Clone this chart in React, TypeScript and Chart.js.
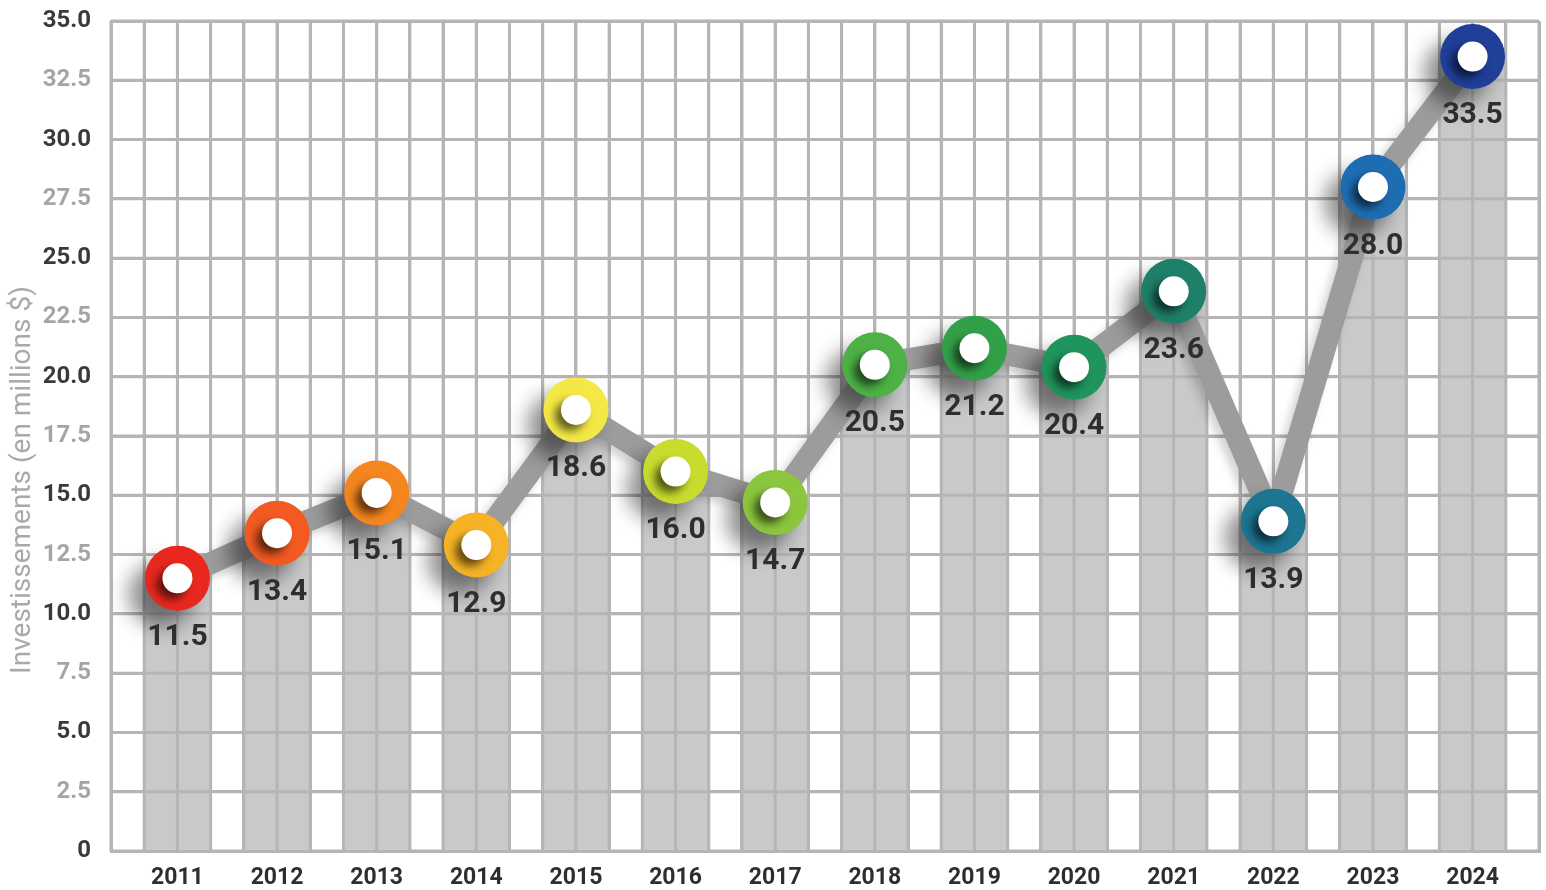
import React, { useEffect, useRef } from "react";
import { Chart, registerables } from "chart.js";

Chart.register(...registerables);

const years = ["2011", "2012", "2013", "2014", "2015", "2016", "2017", "2018", "2019", "2020", "2021", "2022", "2023", "2024"];
const investments = [11.5, 13.4, 15.1, 12.9, 18.6, 16.0, 14.7, 20.5, 21.2, 20.4, 23.6, 13.9, 28.0, 33.5];
const pointColors = [
  "#e8281e", "#f25a22", "#f5861f", "#f6b326", "#f4e846", "#c8dc2e", "#8cc63e",
  "#4db146", "#32a048", "#1f945c", "#1f8069", "#1d7591", "#1e6db2", "#1f3f98",
];
const yTitle = "Investissements (en millions $)";
const FONT = "Roboto, 'Liberation Sans', sans-serif";
const GRID = "#b5b5b5";

const isInt = (v: number) => Math.abs(v - Math.round(v)) < 1e-6;

export default function App() {
  const ref = useRef<HTMLCanvasElement | null>(null);

  useEffect(() => {
    document.body.style.margin = "0";
    const xy = investments.map((v, i) => ({ x: i, y: v }));

    const overlayPlugin = {
      id: "overlay",
      beforeDatasetDraw(chart: any, args: any) {
        const ds = chart.data.datasets[args.index];
        const ctx = chart.ctx;
        ctx.save();
        if (ds.shadow) {
          ctx.shadowColor = ds.shadow.color;
          ctx.shadowBlur = ds.shadow.blur;
          ctx.shadowOffsetX = ds.shadow.dx;
          ctx.shadowOffsetY = ds.shadow.dy;
        }
      },
      afterDatasetDraw(chart: any, args: any) {
        const ctx = chart.ctx;
        ctx.restore();
        if (args.index === 0) {
          // redraw grid over bars
          const { left, right, top, bottom } = chart.chartArea;
          const xs = chart.scales.x;
          const ys = chart.scales.y;
          ctx.save();
          ctx.strokeStyle = GRID;
          ctx.lineWidth = 3;
          ctx.beginPath();
          xs.ticks.forEach((t: any) => {
            const px = xs.getPixelForValue(t.value);
            ctx.moveTo(px, top);
            ctx.lineTo(px, bottom);
          });
          ys.ticks.forEach((t: any) => {
            const py = ys.getPixelForValue(t.value);
            ctx.moveTo(left, py);
            ctx.lineTo(right, py);
          });
          ctx.stroke();
          ctx.restore();
        }
      },
      afterDatasetsDraw(chart: any) {
        const ctx = chart.ctx;
        const meta = chart.getDatasetMeta(2);
        ctx.save();
        ctx.fillStyle = "#2e2e2e";
        ctx.font = `bold 30px ${FONT}`;
        ctx.textAlign = "center";
        ctx.textBaseline = "middle";
        meta.data.forEach((pt: any, i: number) => {
          ctx.fillText(investments[i].toFixed(1), pt.x, pt.y + 59);
        });
        ctx.restore();
      },
      afterDraw(chart: any) {
        const ctx = chart.ctx;
        ctx.save();
        ctx.translate(23, 480);
        ctx.rotate(-Math.PI / 2);
        ctx.fillStyle = "#a9a9a9";
        ctx.font = `28px ${FONT}`;
        ctx.textAlign = "center";
        ctx.textBaseline = "middle";
        ctx.fillText(yTitle, 0, 0);
        ctx.restore();
      },
    };

    const chart = new Chart(ref.current as HTMLCanvasElement, {
      type: "bar",
      data: {
        datasets: [
          {
            type: "bar",
            data: xy,
            backgroundColor: "#c9c9c9",
            borderWidth: 0,
            barPercentage: 2,
            categoryPercentage: 1,
            order: 4,
          } as any,
          {
            type: "line",
            data: xy,
            borderColor: "#9c9c9c",
            borderWidth: 22,
            pointRadius: 0,
            tension: 0,
            order: 3,
            shadow: { color: "rgba(0,0,0,0.18)", blur: 10, dx: -5, dy: 5 },
          } as any,
          {
            type: "line",
            data: xy,
            showLine: false,
            pointRadius: 32.5,
            pointBackgroundColor: pointColors,
            pointBorderWidth: 0,
            order: 2,
            shadow: { color: "rgba(0,0,0,0.45)", blur: 20, dx: -16, dy: 16 },
          } as any,
          {
            type: "line",
            data: xy,
            showLine: false,
            pointRadius: 15,
            pointBackgroundColor: "#ffffff",
            pointBorderWidth: 0,
            order: 1,
            shadow: { color: "rgba(0,0,0,0.6)", blur: 9, dx: -6, dy: 6 },
          } as any,
        ],
      },
      options: {
        animation: false,
        responsive: true,
        maintainAspectRatio: false,
        layout: { autoPadding: false, padding: { top: 21, right: 7, left: 0, bottom: 0 } },
        plugins: { legend: { display: false }, tooltip: { enabled: false } },
        scales: {
          x: {
            type: "linear",
            min: -2 / 3,
            max: 13 + 2 / 3,
            offset: false,
            afterBuildTicks(scale: any) {
              const t = [];
              for (let k = -2; k <= 41; k++) t.push({ value: k / 3 });
              scale.ticks = t;
            },
            afterFit(scale: any) {
              scale.height = 39;
              scale.paddingLeft = 0;
              scale.paddingRight = 0;
            },
            grid: { color: GRID, lineWidth: 3, drawTicks: false, offset: false },
            border: { color: GRID, width: 3 },
            ticks: {
              autoSkip: false,
              maxRotation: 0,
              padding: 13,
              color: "#2e2e2e",
              font: { family: FONT, size: 23, weight: "bold" },
              callback(v: any) {
                const n = Number(v);
                return isInt(n) ? years[Math.round(n)] ?? "" : "";
              },
            },
          },
          y: {
            min: 0,
            max: 35,
            afterFit(scale: any) {
              scale.width = 111;
              scale.paddingTop = 0;
              scale.paddingBottom = 0;
            },
            grid: { color: GRID, lineWidth: 3, drawTicks: false },
            border: { color: GRID, width: 3 },
            ticks: {
              stepSize: 2.5,
              padding: 20,
              color: (c: any) => (isInt(c.tick.value / 5) ? "#3a3a3a" : "#a5a5a5"),
              font: { family: FONT, size: 24, weight: "bold" },
              callback(v: any) {
                const n = Number(v);
                return n === 0 ? "0" : n.toFixed(1);
              },
            },
          },
        },
      } as any,
      plugins: [overlayPlugin],
    });
    return () => chart.destroy();
  }, []);

  return (
    <div style={{ position: "absolute", left: 0, top: 0, width: 1546, height: 890 }}>
      <canvas ref={ref} />
    </div>
  );
}
